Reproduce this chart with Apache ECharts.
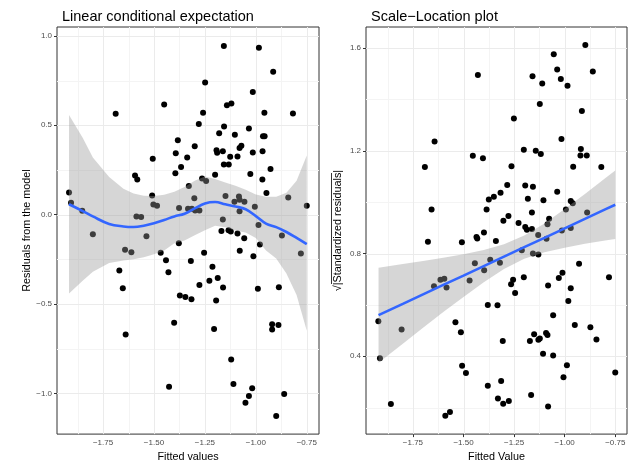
<!DOCTYPE html>
<html><head><meta charset="utf-8">
<script src="https://cdn.jsdelivr.net/npm/echarts@6/dist/echarts.min.js"></script>
<style>html,body{margin:0;padding:0;background:#fff}#c{width:634px;height:468px}</style>
</head><body><div id="c"></div>
<script>
// ---- Left panel: residuals vs fitted ----
const fittedL = [-1.917,-1.907,-1.852,-1.800,-1.688,-1.593,-1.582,-1.586,-1.563,-1.537,-1.506,-1.509,-1.503,-1.485,-1.450,-1.393,-1.383,-1.395,-1.367,-1.377,-1.337,-1.329,-1.302,-1.300,-1.314,-1.298,-1.277,-1.280,-1.259,-1.249,-1.264,-1.244,-1.200,-1.157,-1.193,-1.190,-1.162,-1.180,-1.156,-1.142,-1.120,-1.126,-1.157,-1.133,-1.149,-1.162,-1.103,-1.090,-1.080,-1.071,-1.105,-1.083,-1.056,-1.080,-1.034,-1.015,-0.985,-1.027,-1.015,-1.005,-0.987,-0.965,-0.957,-0.958,-0.967,-0.968,-0.948,-0.928,-0.915,-0.818,-0.841,-0.750,-1.378,-1.169,-1.134,-1.123,-1.090,-1.057,-0.980,-0.872,-0.779,-1.642,-1.611,-1.467,-1.441,-1.429,-1.319,-1.254,-1.213,-1.228,-1.187,-1.161,-1.277,-1.079,-1.012,-0.990,-0.887,-1.670,-1.653,-1.373,-1.346,-1.316,-1.195,-1.401,-1.639,-1.205,-0.920,-0.920,-0.889,-1.121,-1.426,-1.110,-1.018,-1.034,-1.051,-0.861,-0.900,-1.080,-1.333];
const residL = [0.124,0.066,0.022,-0.110,0.565,0.219,0.197,-0.011,-0.013,-0.121,0.313,0.107,0.057,0.050,0.616,0.344,0.416,0.232,0.267,0.037,0.320,0.160,0.092,0.383,0.033,0.023,0.023,0.507,0.570,0.739,0.202,0.188,0.223,0.943,0.361,0.346,0.355,0.456,0.493,0.612,0.622,0.324,0.281,0.281,0.105,-0.027,0.447,0.325,0.373,0.386,0.072,0.101,0.072,0.019,0.482,0.686,0.934,0.228,0.348,0.044,-0.058,0.438,0.438,0.570,0.355,0.197,0.121,0.256,0.800,0.566,0.096,0.050,-0.160,-0.092,-0.088,-0.095,-0.105,-0.132,-0.167,-0.116,-0.217,-0.197,-0.210,-0.213,-0.255,-0.323,-0.259,-0.213,-0.292,-0.370,-0.355,-0.408,-0.393,-0.202,-0.233,-0.415,-0.406,-0.312,-0.412,-0.452,-0.461,-0.474,-0.480,-0.605,-0.671,-0.640,-0.614,-0.643,-0.618,-0.811,-0.963,-0.947,-0.971,-1.015,-1.052,-1.004,-1.127,0.083,0.033];
const loessX     = [-1.917,-1.85,-1.80,-1.72,-1.65,-1.60,-1.55,-1.50,-1.45,-1.40,-1.35,-1.30,-1.25,-1.20,-1.15,-1.10,-1.05,-1.00,-0.95,-0.90,-0.85,-0.80,-0.75];
const loessY     = [0.058,0.020,-0.010,-0.052,-0.066,-0.069,-0.062,-0.048,-0.030,-0.010,0.005,0.035,0.063,0.071,0.058,0.046,0.030,-0.008,-0.050,-0.070,-0.097,-0.130,-0.165];
const loessUpper = [0.557,0.430,0.320,0.210,0.145,0.118,0.106,0.104,0.112,0.128,0.155,0.190,0.213,0.200,0.180,0.162,0.140,0.113,0.100,0.100,0.122,0.190,0.331];
const loessLower = [-0.441,-0.370,-0.320,-0.270,-0.256,-0.250,-0.238,-0.222,-0.200,-0.160,-0.145,-0.115,-0.087,-0.062,-0.070,-0.090,-0.100,-0.130,-0.200,-0.245,-0.330,-0.450,-0.650];

// ---- Right panel: scale-location ----
const fittedR = [-1.429,-1.643,-1.691,-1.658,-1.454,-1.404,-1.251,-1.263,-1.284,-1.317,-1.350,-1.375,-1.386,-1.399,-1.436,-1.303,-1.278,-1.228,-1.195,-1.187,-1.162,-1.202,-1.159,-1.111,-1.123,-1.143,-1.118,-1.195,-1.157,-1.182,-1.162,-1.105,-1.054,-1.037,-1.019,-0.986,-0.898,-0.861,-0.915,-1.016,-0.920,-0.922,-0.891,-0.958,-0.819,-1.037,-0.970,-0.960,-0.994,-0.889,-1.077,-1.085,-0.970,-1.014,-1.131,-1.676,-1.508,-1.432,-1.340,-1.444,-1.368,-1.398,-1.320,-1.470,-1.614,-1.595,-1.584,-1.646,-1.212,-1.157,-1.130,-1.090,-1.921,-1.913,-1.806,-1.859,-1.590,-1.567,-1.540,-1.513,-1.507,-1.488,-1.380,-1.332,-1.380,-1.314,-1.330,-1.304,-1.276,-1.306,-1.255,-1.265,-1.245,-1.202,-1.172,-1.151,-1.130,-1.123,-1.092,-1.085,-1.082,-1.057,-1.107,-1.057,-1.166,-1.082,-1.029,-1.011,-0.970,-0.982,-0.929,-0.950,-0.873,-0.843,-0.989,-1.006,-0.781,-0.750];
const sqrtStdR = [1.495,1.236,1.137,0.971,1.181,1.171,1.326,1.140,1.067,1.037,1.021,1.010,0.971,0.882,0.864,0.928,0.946,0.919,0.903,0.893,0.896,1.204,1.490,1.462,1.382,1.200,1.188,1.065,1.060,1.013,0.960,1.007,1.576,1.517,1.480,1.453,1.612,1.509,1.355,1.246,1.207,1.182,1.182,1.138,1.137,1.041,1.005,0.996,0.971,0.960,0.935,0.914,0.899,0.890,0.872,0.846,0.844,0.859,0.849,0.762,0.776,0.735,0.764,0.695,0.698,0.702,0.668,0.673,0.813,0.800,0.796,0.858,0.536,0.392,0.504,0.214,0.168,0.183,0.532,0.494,0.363,0.335,0.600,0.599,0.285,0.304,0.236,0.215,0.226,0.459,0.698,0.680,0.646,0.708,0.459,0.486,0.464,0.469,0.491,0.483,0.676,0.560,0.410,0.403,0.249,0.204,0.705,0.725,0.665,0.615,0.760,0.522,0.513,0.465,0.365,0.318,0.708,0.337];
const lmX     = [-1.92,-1.80,-1.70,-1.60,-1.50,-1.40,-1.30,-1.20,-1.10,-1.00,-0.90,-0.80,-0.75];
const lmY     = [0.560,0.604,0.641,0.678,0.714,0.751,0.788,0.825,0.861,0.898,0.935,0.972,0.990];
const lmUpper = [0.745,0.759,0.771,0.784,0.797,0.814,0.836,0.870,0.917,0.973,1.032,1.093,1.123];
const lmLower = [0.375,0.449,0.511,0.572,0.631,0.688,0.740,0.780,0.805,0.823,0.838,0.851,0.857];

// ---- Tick values ----
const xMajor = [-1.75,-1.50,-1.25,-1.00,-0.75];
const xMinor = [-1.875,-1.625,-1.375,-1.125,-0.875];
const yMajorL = [-1.0,-0.5,0.0,0.5,1.0];
const yMinorL = [-0.75,-0.25,0.25,0.75];
const yMajorR = [0.4,0.8,1.2,1.6];
const yMinorR = [0.2,0.6,1.0,1.4];

const FONT = 'Liberation Sans, Arial, Helvetica, sans-serif';
const xRangeL = [-1.976,-0.69], yRangeL = [-1.228,1.05];
const xRangeR = [-1.982,-0.692], yRangeR = [0.097,1.682];

const minus = s => s.replace('-', '\u2212');

function gridLines(gi, xs, ys, xr, yr, color, width){
  const items = xs.map(v=>[v, yr[0], v, yr[1]]).concat(ys.map(v=>[xr[0], v, xr[1], v]));
  return {type:'custom', xAxisIndex:gi, yAxisIndex:gi, z:1, silent:true, data:items,
    encode:{x:[0,2], y:[1,3]},
    renderItem:(p,api)=>{
      const a=api.coord([api.value(0),api.value(1)]), b=api.coord([api.value(2),api.value(3)]);
      const vert = api.value(0)===api.value(2);
      let x1=a[0],y1=a[1],x2=b[0],y2=b[1];
      if(vert){x1=x2=Math.round(x1)+0.5;} else {y1=y2=Math.round(y1)+0.5;}
      return {type:'line', shape:{x1,y1,x2,y2}, style:{stroke:color, lineWidth:width}};
    }};
}
function band(gi, xs, up, lo){
  return {type:'custom', xAxisIndex:gi, yAxisIndex:gi, z:3, silent:true, data:[[xs[0], up[0]]],
    renderItem:(p,api)=>{
      const pts=[];
      for(let i=0;i<xs.length;i++) pts.push(api.coord([xs[i],up[i]]));
      for(let i=xs.length-1;i>=0;i--) pts.push(api.coord([xs[i],lo[i]]));
      return {type:'polygon', shape:{points:pts}, style:{fill:'rgba(153,153,153,0.4)'}};
    }};
}
function xAxis(gi, r, name){
  return {type:'value', gridIndex:gi, min:r[0], max:r[1],
    axisLine:{show:false}, splitLine:{show:false},
    axisTick:{show:true, customValues:xMajor, length:3, lineStyle:{color:'#333', width:1}},
    axisLabel:{customValues:xMajor, formatter:v=>minus(v.toFixed(2)), fontSize:8, color:'#4D4D4D', margin:5, fontFamily:FONT},
    name:name, nameLocation:'middle', nameGap:14,
    nameTextStyle:{fontSize:10.8, color:'#000', fontFamily:FONT}};
}
function yAxis(gi, r, ticks, name, gap){
  return {type:'value', gridIndex:gi, min:r[0], max:r[1],
    axisLine:{show:false}, splitLine:{show:false},
    axisTick:{show:true, customValues:ticks, length:3, lineStyle:{color:'#333', width:1}},
    axisLabel:{customValues:ticks, formatter:v=>minus(v.toFixed(1)), fontSize:8, color:'#4D4D4D', margin:5, fontFamily:FONT},
    name:name, nameLocation:'middle', nameGap:gap, nameRotate:90,
    nameTextStyle:{fontSize:10.8, color:'#000', fontFamily:FONT}};
}
const chart = echarts.init(document.getElementById('c'), null, {renderer:'canvas'});
chart.setOption({
  animation:false,
  backgroundColor:'#fff',
  title:[
    {text:'Linear conditional expectation', left:57, top:4, textStyle:{fontSize:14.5, fontWeight:'normal', color:'#000', fontFamily:FONT}},
    {text:'Scale\u2212Location plot', left:366, top:4, textStyle:{fontSize:14.5, fontWeight:'normal', color:'#000', fontFamily:FONT}}
  ],
  grid:[
    {left:57, width:262, top:27, height:412, show:true, borderColor:'#333', borderWidth:1, backgroundColor:'transparent'},
    {left:366, width:261, top:27, height:412, show:true, borderColor:'#333', borderWidth:1, backgroundColor:'transparent'}
  ],
  graphic:[
    {type:'line', shape:{x1:331.5, y1:173, x2:331.5, y2:284}, style:{stroke:'#000', lineWidth:0.8}, silent:true}
  ],
  xAxis:[xAxis(0, xRangeL, 'Fitted values'), xAxis(1, xRangeR, 'Fitted Value')],
  yAxis:[yAxis(0, yRangeL, yMajorL, 'Residuals from the model', 24), yAxis(1, yRangeR, yMajorR, '\u221A|Standardized residuals|', 22)],
  series:[
    gridLines(0, xMinor, yMinorL, xRangeL, yRangeL, '#F4F4F4', 1),
    gridLines(0, xMajor, yMajorL, xRangeL, yRangeL, '#EBEBEB', 1),
    gridLines(1, xMinor, yMinorR, xRangeR, yRangeR, '#F4F4F4', 1),
    gridLines(1, xMajor, yMajorR, xRangeR, yRangeR, '#EBEBEB', 1),
    {type:'scatter', xAxisIndex:0, yAxisIndex:0, z:2, symbolSize:6, itemStyle:{color:'#000', opacity:1}, silent:true,
      data: fittedL.map((x,i)=>[x, residL[i]])},
    {type:'scatter', xAxisIndex:1, yAxisIndex:1, z:2, symbolSize:6, itemStyle:{color:'#000', opacity:1}, silent:true,
      data: fittedR.map((x,i)=>[x, sqrtStdR[i]])},
    band(0, loessX, loessUpper, loessLower),
    band(1, lmX, lmUpper, lmLower),
    {type:'line', xAxisIndex:0, yAxisIndex:0, z:4, smooth:0.4, showSymbol:false, silent:true,
      lineStyle:{color:'#3366FF', width:2.6}, data: loessX.map((x,i)=>[x, loessY[i]])},
    {type:'line', xAxisIndex:1, yAxisIndex:1, z:4, showSymbol:false, silent:true,
      lineStyle:{color:'#3366FF', width:2.6}, data: lmX.map((x,i)=>[x, lmY[i]])}
  ]
});
</script></body></html>
